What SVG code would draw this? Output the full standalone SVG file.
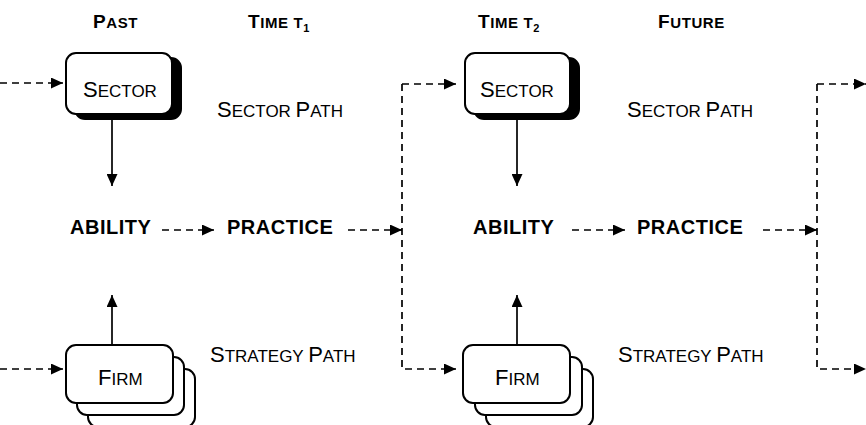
<svg xmlns="http://www.w3.org/2000/svg" width="866" height="425" viewBox="0 0 866 425">
<style>
text{font-family:"Liberation Sans",Arial,sans-serif;fill:#000}
.hd{font-weight:bold;font-size:15px;letter-spacing:0.6px}
.hd .L{font-size:19px}
.lb{font-size:17px}
.lb .L{font-size:22px}
.bd{font-weight:bold;font-size:20px;letter-spacing:0.5px}
.box{fill:#fff;stroke:#000;stroke-width:2}
.sh{fill:#000;stroke:#000;stroke-width:2}
.dash{fill:none;stroke:#000;stroke-width:1.7;stroke-dasharray:7 5}
.solid{fill:none;stroke:#000;stroke-width:1.7}
</style>
<defs>
<marker id="ah" viewBox="0 0 12 11" refX="12" refY="5.5" markerWidth="12" markerHeight="11" markerUnits="userSpaceOnUse" orient="auto">
<path d="M0,0 L12,5.5 L0,11 Z" fill="#000"/>
</marker>
</defs>
<g id="headers">
<text class="hd" x="93" y="28"><tspan class="L">P</tspan>AST</text>
<text class="hd" x="248" y="28"><tspan class="L">T</tspan>IME T<tspan font-size="11" dy="4">1</tspan></text>
<text class="hd" x="478" y="28"><tspan class="L">T</tspan>IME T<tspan font-size="11" dy="4">2</tspan></text>
<text class="hd" x="658" y="28"><tspan class="L">F</tspan>UTURE</text>
</g>
<g id="sector1">
<rect class="sh" x="75" y="58" width="106" height="61" rx="10"/>
<rect class="box" x="66" y="53" width="106" height="61" rx="10"/>
<text class="lb" x="83" y="97"><tspan class="L">S</tspan>ECTOR</text>
</g>
<g id="sector2">
<rect class="sh" x="474" y="58" width="105" height="61" rx="10"/>
<rect class="box" x="465" y="53" width="105" height="61" rx="10"/>
<text class="lb" x="480" y="97"><tspan class="L">S</tspan>ECTOR</text>
</g>
<g id="firm1">
<rect class="box" x="88" y="369" width="107" height="58" rx="10"/>
<rect class="box" x="77" y="357" width="107" height="58" rx="10"/>
<rect class="box" x="66" y="345" width="107" height="58" rx="10"/>
<text class="lb" x="98" y="385"><tspan class="L">F</tspan>IRM</text>
</g>
<g id="firm2">
<rect class="box" x="486" y="369" width="107" height="58" rx="10"/>
<rect class="box" x="475" y="357" width="107" height="58" rx="10"/>
<rect class="box" x="463" y="345" width="107" height="58" rx="10"/>
<text class="lb" x="495" y="385"><tspan class="L">F</tspan>IRM</text>
</g>
<g id="labels">
<text class="lb" x="217" y="117"><tspan class="L">S</tspan>ECTOR <tspan class="L">P</tspan>ATH</text>
<text class="lb" x="627" y="117"><tspan class="L">S</tspan>ECTOR <tspan class="L">P</tspan>ATH</text>
<text class="lb" x="210" y="362"><tspan class="L">S</tspan>TRATEGY <tspan class="L">P</tspan>ATH</text>
<text class="lb" x="618" y="362"><tspan class="L">S</tspan>TRATEGY <tspan class="L">P</tspan>ATH</text>
</g>
<g id="ability1"><text class="bd" x="70" y="234">ABILITY</text></g>
<g id="practice1"><text class="bd" x="227" y="234">PRACTICE</text></g>
<g id="ability2"><text class="bd" x="473" y="234">ABILITY</text></g>
<g id="practice2"><text class="bd" x="637" y="234">PRACTICE</text></g>
<g id="connectors">
<path class="dash" d="M0,83 H63" marker-end="url(#ah)"/>
<path class="dash" d="M0,369 H63" marker-end="url(#ah)"/>
<path class="solid" d="M112,119 V186" marker-end="url(#ah)"/>
<path class="solid" d="M112,345 V295" marker-end="url(#ah)"/>
<path class="dash" d="M162,230 H214" marker-end="url(#ah)"/>
<path class="dash" d="M348,230 H402" marker-end="url(#ah)"/>
<path class="dash" d="M402,84 H456" marker-end="url(#ah)"/>
<path class="dash" d="M402,84 V369 H456" marker-end="url(#ah)"/>
<path class="solid" d="M517,119 V186" marker-end="url(#ah)"/>
<path class="solid" d="M517,345 V295" marker-end="url(#ah)"/>
<path class="dash" d="M572,230 H625" marker-end="url(#ah)"/>
<path class="dash" d="M763,230 H817" marker-end="url(#ah)"/>
<path class="dash" d="M817,84 H866" marker-end="url(#ah)"/>
<path class="dash" d="M817,84 V369 H866" marker-end="url(#ah)"/>
</g>
</svg>
